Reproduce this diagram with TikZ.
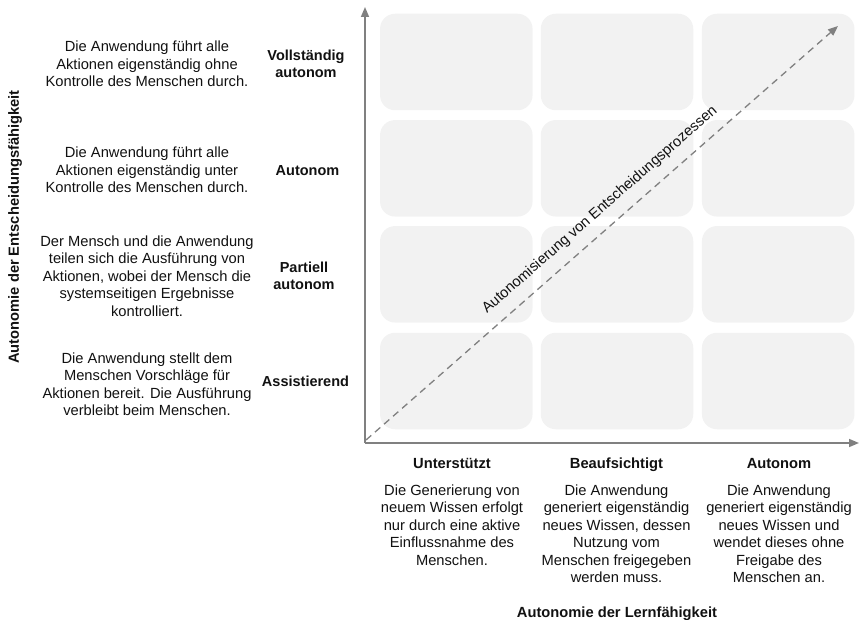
\documentclass[tikz,border=0pt]{standalone}
\usepackage{fontspec}
\setmainfont{Liberation Sans}
\usetikzlibrary{arrows.meta}
\definecolor{cellgray}{HTML}{F2F2F2}
\definecolor{axisgray}{HTML}{808080}
\definecolor{txt}{HTML}{111111}
\begin{document}
\begin{tikzpicture}[x=1pt,y=-1pt,
  cell/.style={fill=cellgray, draw=none, rounded corners=15pt, minimum width=152.5pt, minimum height=96.5pt, inner sep=0pt},
  desc/.style={align=center, text=txt, inner sep=0pt, font=\fontsize{14.7}{17.5}\selectfont},
  lvl/.style={align=center, text=txt, inner sep=0pt, font=\bfseries\fontsize{14.5}{17}\selectfont},
  colhead/.style={text=txt, inner sep=0pt, anchor=base, font=\bfseries\fontsize{14.7}{17.5}\selectfont},
  axistitle/.style={text=txt, inner sep=0pt, font=\bfseries\fontsize{14.7}{18}\selectfont},
  axisline/.style={draw=axisgray, line width=1.5pt, -{Triangle[length=10pt,width=8pt]}},
  diagline/.style={draw=axisgray, line width=1.3pt, dash pattern=on 7pt off 5pt, -{Triangle[length=10pt,width=8pt]}}
]
\useasboundingbox (0,0) rectangle (862,620);
% cells
\foreach \r/\y in {1/62,2/168.3,3/274.3,4/381}{
  \foreach \c/\x in {1/456.3,2/617,3/778.2}{
    \node[cell] (c\r\c) at (\x,\y) {};
  }
}
% axes
\coordinate (o) at (365,443);
\coordinate (ytip) at (365,7);
\coordinate (xtip) at (859,443);
\draw[axisline] (o) -- (ytip);
\draw[axisline] (o) -- (xtip);
% diagonal
\coordinate (d0) at (366,440);
\coordinate (d1) at (838,26);
\draw[diagline] (d0) -- (d1);
\node[desc, rotate=41.2] (diag) at (600,210) {Autonomisierung von Entscheidungsprozessen};
% left descriptions
\node[desc] (l1) at (147,64) {Die Anwendung führt alle\\Aktionen eigenständig ohne\\Kontrolle des Menschen durch.};
\node[desc] (l2) at (147,170) {Die Anwendung führt alle\\Aktionen eigenständig unter\\Kontrolle des Menschen durch.};
\node[desc] (l3) at (147,276) {Der Mensch und die Anwendung\\teilen sich die Ausführung von\\Aktionen, wobei der Mensch die\\systemseitigen Ergebnisse\\kontrolliert.};
\node[desc] (l4) at (147,384) {Die Anwendung stellt dem\\Menschen Vorschläge für\\Aktionen bereit. Die Ausführung\\verbleibt beim Menschen.};
% level labels
\node[lvl] (v1) at (306,64) {Vollständig\\autonom};
\node[lvl] (v2) at (307.5,170.5) {Autonom};
\node[lvl] (v3) at (304,276) {Partiell\\autonom};
\node[lvl] (v4) at (305.5,381.5) {Assistierend};
% column headers
\node[colhead] (h1) at (452,468.5) {Unterstützt};
\node[colhead] (h2) at (616.5,468.5) {Beaufsichtigt};
\node[colhead] (h3) at (779,468.5) {Autonom};
% column descriptions
\node[desc, anchor=north] (b1) at (452,484.5) {Die Generierung von\\neuem Wissen erfolgt\\nur durch eine aktive\\Einflussnahme des\\Menschen.};
\node[desc, anchor=north] (b2) at (616.5,484.5) {Die Anwendung\\generiert eigenständig\\neues Wissen, dessen\\Nutzung vom\\Menschen freigegeben\\werden muss.};
\node[desc, anchor=north] (b3) at (779,484.5) {Die Anwendung\\generiert eigenständig\\neues Wissen und\\wendet dieses ohne\\Freigabe des\\Menschen an.};
% axis titles
\node[axistitle] (xt) at (617,614) {Autonomie der Lernfähigkeit};
\node[axistitle, rotate=90] (yt) at (15,227) {Autonomie der Entscheidungsfähigkeit};
\end{tikzpicture}
\end{document}
